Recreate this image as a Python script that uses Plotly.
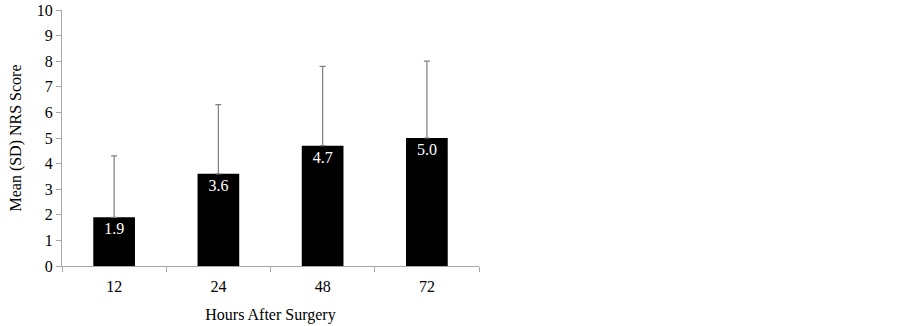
import plotly.graph_objects as go

categories = ["12", "24", "48", "72"]
means = [1.9, 3.6, 4.7, 5.0]
sds = [2.4, 2.7, 3.1, 3.0]
y_ticks = list(range(0, 11))

font_family = "Liberation Serif"

fig = go.Figure(
    go.Bar(
        x=categories,
        y=means,
        marker=dict(color="black", line=dict(color="black", width=0)),
        width=0.4,
        text=[f"{v:.1f}" for v in means],
        textposition="inside",
        insidetextanchor="end",
        textfont=dict(color="white", size=16, family=font_family),
        insidetextfont=dict(color="white", size=16, family=font_family),
        error_y=dict(type="data", array=sds, arrayminus=[0] * len(sds),
                     symmetric=False, color="#7f7f7f", thickness=1.2, width=3),
        hoverinfo="skip",
    )
)

fig.update_layout(
    width=903,
    height=326,
    margin=dict(l=62, r=424, t=10, b=60, autoexpand=False),
    paper_bgcolor="white",
    plot_bgcolor="white",
    showlegend=False,
    font=dict(family=font_family, size=16, color="black"),
)

fig.update_xaxes(
    type="category",
    range=[-0.5, 3.5],
    tickson="boundaries",
    ticks="outside",
    ticklen=5,
    tickcolor="#a6a6a6",
    showline=True,
    linecolor="#a6a6a6",
    linewidth=1,
    showgrid=False,
    automargin=False,
    ticklabelstandoff=6,
    tickfont=dict(size=16, family=font_family, color="black"),
    title=dict(text="Hours After Surgery", font=dict(size=16, family=font_family), standoff=14),
)

fig.update_yaxes(
    range=[0, 10],
    tickvals=y_ticks,
    ticks="outside",
    ticklen=5,
    tickcolor="#a6a6a6",
    showline=True,
    linecolor="#a6a6a6",
    linewidth=1,
    showgrid=False,
    zeroline=False,
    automargin=False,
    ticklabeloverflow="allow",
    tickfont=dict(size=16, family=font_family, color="black"),
    title=dict(text="Mean (SD) NRS Score", font=dict(size=16, family=font_family), standoff=11),
)

fig.write_html("out.html", config={"displayModeBar": False},
               post_script="document.body.style.margin='0';")
